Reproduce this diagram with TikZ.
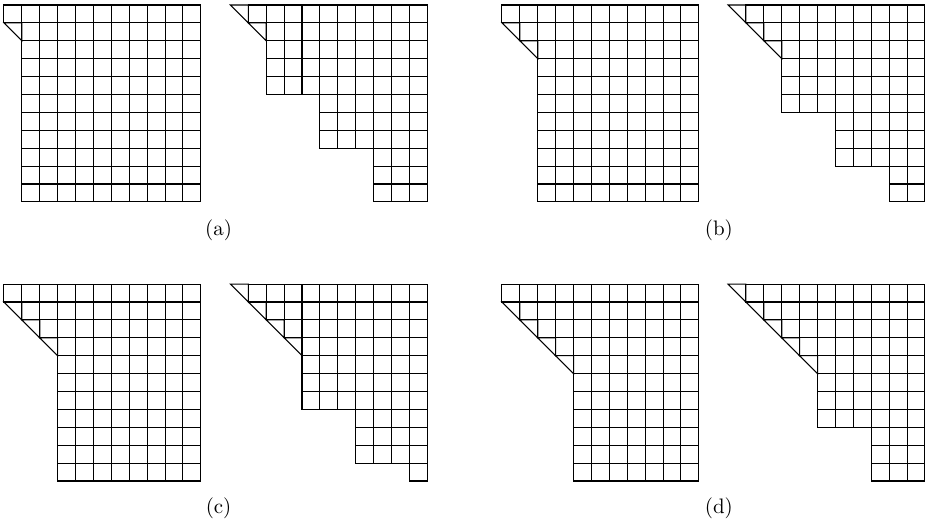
\documentclass[tikz,border=0pt]{standalone}
\usepackage{tikz}

% squares of rows #1..#2, from column #3 to the right edge (column 10)
\newcommand{\cellrows}[3]{%
  \foreach \rw in {#1,...,#2}{%
    \foreach \cl in {#3,...,10}{%
      \draw (\cl,-\rw) rectangle ++(1,-1);}}}
% half cell cut by the diagonal, at column #1, row #2
\newcommand{\cutcell}[2]{\draw (#1,-#2) -- ++(1,0) -- ++(0,-1) -- cycle;}
% #2 rows along the diagonal, starting in row #1
\newcommand{\cutrows}[2]{%
  \foreach \k in {1,...,#2}{%
    \pgfmathtruncatemacro\rr{#1+\k-1}%
    \cutcell{\k-1}{\rr}%
    \cellrows{\rr}{\rr}{\k}}}

\begin{document}
\begin{tikzpicture}[x=0.3cm,y=0.3cm,line width=0.5pt]
  \useasboundingbox (0,0) rectangle (51.73,-29.05);

  % (a)
  \begin{scope}[shift={(0.22,-0.28)}]
    \cellrows{0}{0}{0}
    \cutrows{1}{1}
    \cellrows{2}{10}{1}
  \end{scope}
  \begin{scope}[shift={(12.87,-0.28)}]
    \cutrows{0}{2}
    \cellrows{2}{4}{2}
    \cellrows{5}{7}{5}
    \cellrows{8}{10}{8}
  \end{scope}

  % (b)
  \begin{scope}[shift={(28.04,-0.28)}]
    \cellrows{0}{0}{0}
    \cutrows{1}{2}
    \cellrows{3}{10}{2}
  \end{scope}
  \begin{scope}[shift={(40.67,-0.28)}]
    \cutrows{0}{3}
    \cellrows{3}{5}{3}
    \cellrows{6}{8}{6}
    \cellrows{9}{10}{9}
  \end{scope}

  % (c)
  \begin{scope}[shift={(0.22,-15.87)}]
    \cellrows{0}{0}{0}
    \cutrows{1}{3}
    \cellrows{4}{10}{3}
  \end{scope}
  \begin{scope}[shift={(12.87,-15.87)}]
    \cutrows{0}{4}
    \cellrows{4}{6}{4}
    \cellrows{7}{9}{7}
    \cellrows{10}{10}{10}
  \end{scope}

  % (d)
  \begin{scope}[shift={(28.04,-15.87)}]
    \cellrows{0}{0}{0}
    \cutrows{1}{4}
    \cellrows{5}{10}{4}
  \end{scope}
  \begin{scope}[shift={(40.67,-15.87)}]
    \cutrows{0}{5}
    \cellrows{5}{7}{5}
    \cellrows{8}{10}{8}
  \end{scope}

  % captions
  \node (capa) at (12.21,-12.89) {(a)};
  \node (capb) at (40.16,-12.89) {(b)};
  \node (capc) at (12.21,-28.42) {(c)};
  \node (capd) at (40.16,-28.42) {(d)};
\end{tikzpicture}
\end{document}
